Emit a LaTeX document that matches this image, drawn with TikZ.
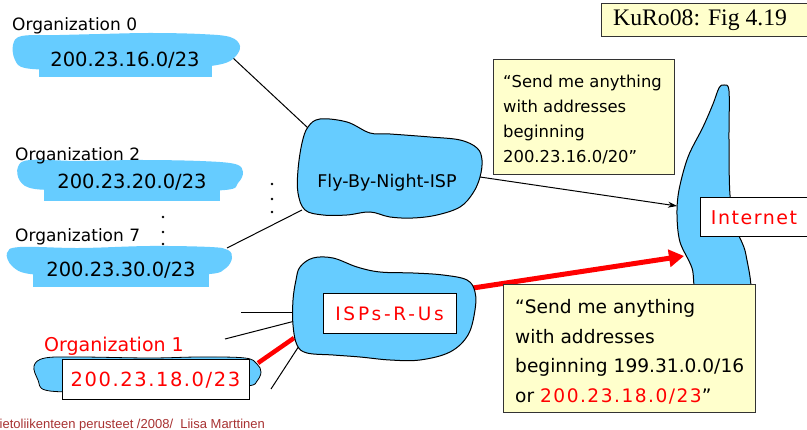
\documentclass[tikz,border=0pt]{standalone}
\usepackage{fontspec}
\setmainfont{DejaVu Sans}
\newfontfamily\widefont[LetterSpace=8]{DejaVu Sans}
\newfontfamily\widerfont[LetterSpace=15]{DejaVu Sans}
\newfontfamily\footfont{Liberation Sans}
\newfontfamily\figfont{Liberation Serif}
\usetikzlibrary{arrows.meta}
\definecolor{cloudblue}{HTML}{66CCFF}
\definecolor{notepaper}{HTML}{FFFFCC}
\definecolor{footred}{HTML}{A83232}

\begin{document}
\begin{tikzpicture}[x=1pt,y=-1pt,
  brush/.style={fill=cloudblue},
  cloudshape/.style={fill=cloudblue,draw=black,line width=1pt},
  link/.style={draw=black,line width=1pt},
  notebox/.style={draw=black!80,fill=notepaper,line width=1pt,inner sep=0pt,anchor=north west},
  labelbox/.style={draw=black,fill=white,line width=1pt,inner sep=0pt},
  orgname/.style={inner sep=0pt,anchor=base west,font=\fontsize{17}{20}\selectfont},
  netprefix/.style={inner sep=0pt,anchor=base,font=\fontsize{19.5}{22}\selectfont},
  notetext/.style={inner sep=0pt,anchor=north west,align=left}
]
\useasboundingbox (0,0) rectangle (807,430);
\fill[white] (0,0) rectangle (807,430);

% attachment points on the clouds
\coordinate (org0E) at (233,58);
\coordinate (fbnNW) at (308,128);
\coordinate (org7E) at (227,248);
\coordinate (fbnSW) at (302,210);
\coordinate (fbnE) at (480,177);
\coordinate (netW) at (677,206);
\coordinate (ispsE) at (473,288);
\coordinate (netSW) at (684,256);
\coordinate (stub1) at (241,313);
\coordinate (ispsW1) at (294,313);
\coordinate (stub2) at (225,339);
\coordinate (ispsW2) at (295,321);
\coordinate (org1E) at (258,363);
\coordinate (ispsW3) at (294,338);
\coordinate (stub4) at (271,389);
\coordinate (ispsW4) at (299,346);

% the Internet
\filldraw[cloudshape] plot[smooth cycle,tension=0.55] coordinates {(724,85) (729,91) (729,140) (730,195) (736,228) (746,255) (748,300) (700,300) (692,268) (680,242) (677,215) (679,190) (688,157) (703,127) (713,104) (719,88)};

% links
\draw[link] (org0E) -- (fbnNW);
\draw[link] (org7E) -- (fbnSW);
\draw[link,-{Stealth[length=9pt,width=6pt]}] (fbnE) -- (netW);
\draw[red,line width=5pt,-{Triangle[length=15pt,width=17pt]}] (ispsE) -- (netSW);
\draw[link] (stub1) -- (ispsW1);
\draw[link] (stub2) -- (ispsW2);
\draw[link] (stub4) -- (ispsW4);
\draw[red,line width=4.5pt] (org1E) -- (ispsW3);

% organisation networks
\fill[brush] plot[smooth cycle,tension=0.6] coordinates {(13,45) (22,36) (60,35) (100,34) (150,33) (200,34) (230,37) (240,46) (235,57) (222,64) (190,68) (150,69) (100,70) (60,70) (25,68) (15,60)};
\fill[brush] (39,55) rectangle (212,77);
\fill[brush] plot[smooth cycle,tension=0.6] coordinates {(18,167) (30,160) (80,161) (140,160) (200,161) (235,164) (243,172) (238,183) (225,190) (150,191) (80,190) (35,189) (20,181)};
\fill[brush] (44,180) rectangle (220,201);
\fill[brush] plot[smooth cycle,tension=0.6] coordinates {(7,253) (20,247) (80,248) (150,246) (210,247) (228,250) (232,258) (226,268) (210,274) (150,275) (80,275) (30,274) (12,266)};
\fill[brush] (33,265) rectangle (209,287);
\filldraw[cloudshape,line width=0.8pt] plot[smooth cycle,tension=0.6] coordinates {(34,366) (45,358) (80,357) (150,358) (200,357) (245,358) (257,364) (261,372) (257,381) (248,386) (200,390) (150,391) (80,392) (45,390) (38,380)};

% provider clouds
\filldraw[cloudshape] plot[smooth cycle,tension=0.6] coordinates {(308,127) (320,119) (347,122) (370,133) (390,134) (430,137) (460,140) (477,148) (482,160) (480,177) (473,193) (460,207) (437,215) (413,218) (390,217) (370,212) (347,215) (323,215) (305,210) (298,193) (298,170) (302,143)};
\filldraw[cloudshape] plot[smooth cycle,tension=0.6] coordinates {(300,267) (313,258) (333,258) (357,267) (380,272) (413,273) (443,275) (467,280) (475,292) (475,310) (468,335) (450,352) (420,360) (390,360) (360,357) (333,355) (307,353) (297,345) (293,325) (293,300) (296,280)};

% dots for the omitted organisations
\fill (163,217) circle[radius=1.3pt];
\fill (163,232) circle[radius=1.3pt];
\fill (163,244) circle[radius=1.3pt];
\fill (272,184) circle[radius=1.3pt];
\fill (272,199) circle[radius=1.3pt];
\fill (272,212) circle[radius=1.3pt];

% labels
\node[orgname] (org0) at (12,31) {Organization 0};
\node[netprefix] (net0) at (125,67) {200.23.16.0/23};
\node[orgname] (org2) at (15,161) {Organization 2};
\node[netprefix] (net2) at (132,189) {200.23.20.0/23};
\node[orgname] (org7) at (15,242) {Organization 7};
\node[netprefix] (net7) at (121,277) {200.23.30.0/23};
\node[orgname,text=red,font=\fontsize{19}{22}\selectfont] (org1) at (44,352) {Organization 1};
\node[labelbox,minimum width=187pt,minimum height=40pt,text=red,font=\widefont\fontsize{19.5}{22}\selectfont] (net1) at (155.5,380) {200.23.18.0/23};

\node[inner sep=0pt,anchor=base,font=\fontsize{17.5}{20}\selectfont] (fbn) at (387,188) {Fly-By-Night-ISP};
\node[labelbox,minimum width=133pt,minimum height=40pt,text=red,font=\widerfont\fontsize{18.5}{22}\selectfont] (isps) at (389.5,314) {ISPs-R-Us};

\node[labelbox,anchor=north west,minimum width=130pt,minimum height=39pt] (netbox) at (700,197) {};
\node[inner sep=0pt,anchor=base,text=red,font=\widefont\fontsize{19}{22}\selectfont] (net) at (754,225) {Internet};

% announcements
\node[notebox,minimum width=181pt,minimum height=115pt] (note1) at (493,59) {};
\node[notetext,font=\fontsize{16.4}{25}\selectfont] (note1text) at (503,74.5) {“Send me anything\\with addresses\\beginning\\200.23.16.0/20”};
\node[notebox,minimum width=252pt,minimum height=128pt] (note2) at (503,284) {};
\node[notetext,font=\fontsize{18.6}{29.7}\selectfont] (note2text) at (515,299) {“Send me anything\\with addresses\\beginning 199.31.0.0/16\\or {\color{red}\widefont 200.23.18.0/23}”};

% figure reference and credit line
\node[notebox,minimum width=229pt,minimum height=33pt] (figbox) at (601,3) {};
\node[inner sep=0pt,anchor=base west,font=\figfont\fontsize{23.7}{26}\selectfont] (figref) at (613,26) {KuRo08: Fig 4.19};
\node[inner sep=0pt,anchor=base west,text=footred,font=\footfont\fontsize{13}{15}\selectfont] (credit) at (-0.5,429) {ietoliikenteen perusteet /2008/\ \ Liisa Marttinen};
\end{tikzpicture}
\end{document}
